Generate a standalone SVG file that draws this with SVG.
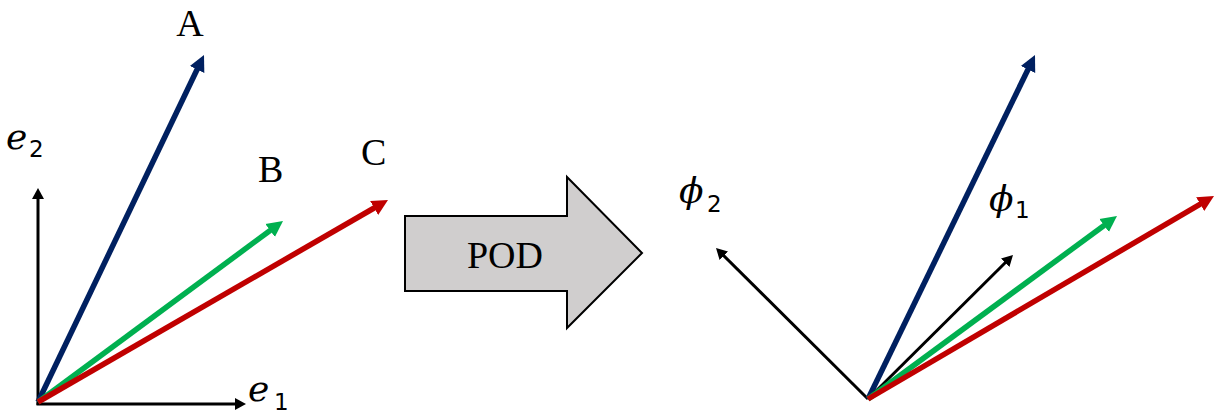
<svg xmlns="http://www.w3.org/2000/svg" width="1214" height="414" viewBox="0 0 1214 414">
  <style>
    .lbl { font-family: "Liberation Serif", "Times New Roman", serif; font-size: 38px; fill: #000; }
    .math { font-family: "DejaVu Serif", serif; font-style: italic; font-size: 36px; fill: #000; }
    .sub { font-family: "DejaVu Sans", sans-serif; font-size: 23px; fill: #000; }
    .vec { fill: none; stroke-width: 5.5; }
    .axis { fill: none; stroke: #000; stroke-width: 3; }
    .blue { stroke: #002060; }
    .green { stroke: #00B050; }
    .red { stroke: #C00000; }
  </style>
  <defs>
    <marker id="headBlue" markerUnits="userSpaceOnUse" markerWidth="18" markerHeight="18" viewBox="0 -9 18 18" refX="8" refY="0" orient="auto">
      <path d="M0,-8 L16,0 L0,8 z" fill="#002060"/>
    </marker>
    <marker id="headGreen" markerUnits="userSpaceOnUse" markerWidth="18" markerHeight="18" viewBox="0 -9 18 18" refX="8" refY="0" orient="auto">
      <path d="M0,-8 L16,0 L0,8 z" fill="#00B050"/>
    </marker>
    <marker id="headRed" markerUnits="userSpaceOnUse" markerWidth="18" markerHeight="18" viewBox="0 -9 18 18" refX="8" refY="0" orient="auto">
      <path d="M0,-8 L16,0 L0,8 z" fill="#C00000"/>
    </marker>
    <marker id="headBlack" markerUnits="userSpaceOnUse" markerWidth="14" markerHeight="14" viewBox="0 -7 14 14" refX="5" refY="0" orient="auto">
      <path d="M0,-6 L11,0 L0,6 z" fill="#000"/>
    </marker>
  </defs>

  <!-- left: original basis e1, e2 and snapshot vectors A, B, C -->
  <g id="connectors">
    <line class="axis" x1="38" y1="405" x2="38" y2="194" marker-end="url(#headBlack)"/>
    <line class="axis" x1="36.5" y1="404" x2="240" y2="404" marker-end="url(#headBlack)"/>
    <line class="vec blue" x1="38" y1="402" x2="200.55" y2="62.22" marker-end="url(#headBlue)"/>
    <line class="vec green" x1="38" y1="402" x2="276.57" y2="225.75" marker-end="url(#headGreen)"/>
    <line class="vec red" x1="38" y1="402" x2="381.07" y2="204" marker-end="url(#headRed)"/>

    <!-- right: POD modes phi1, phi2 with the same vectors -->
    <line class="axis" x1="868" y1="399" x2="720.26" y2="252.23" marker-end="url(#headBlack)"/>
    <line class="vec blue" x1="868" y1="399" x2="1031.51" y2="62.2" marker-end="url(#headBlue)"/>
    <line class="axis" x1="868" y1="399" x2="1008.74" y2="259.23" marker-end="url(#headBlack)"/>
    <line class="vec green" x1="868" y1="399" x2="1110.55" y2="220.74" marker-end="url(#headGreen)"/>
    <line class="vec red" x1="868" y1="399" x2="1207.1" y2="200.05" marker-end="url(#headRed)"/>
  </g>

  <g id="label-A"><text class="lbl" x="190" y="36" text-anchor="middle">A</text></g>
  <g id="label-B"><text class="lbl" x="258" y="182">B</text></g>
  <g id="label-C"><text class="lbl" x="361" y="165">C</text></g>
  <g id="label-e2"><text class="math" x="6" y="149">e</text><text class="sub" x="29" y="157">2</text></g>
  <g id="label-e1"><text class="math" x="248" y="401">e</text><text class="sub" x="274" y="410">1</text></g>

  <g id="pod">
    <polygon points="405,216 567,216 567,177 642,253 567,328 567,291 405,291" fill="#D0CECE" stroke="#000" stroke-width="2"/>
    <text class="lbl" x="505" y="268" text-anchor="middle">POD</text>
  </g>

  <g id="label-phi2"><text class="math" x="679" y="203">ϕ</text><text class="sub" x="707" y="212">2</text></g>
  <g id="label-phi1"><text class="math" x="989" y="211">ϕ</text><text class="sub" x="1015" y="218">1</text></g>
</svg>
